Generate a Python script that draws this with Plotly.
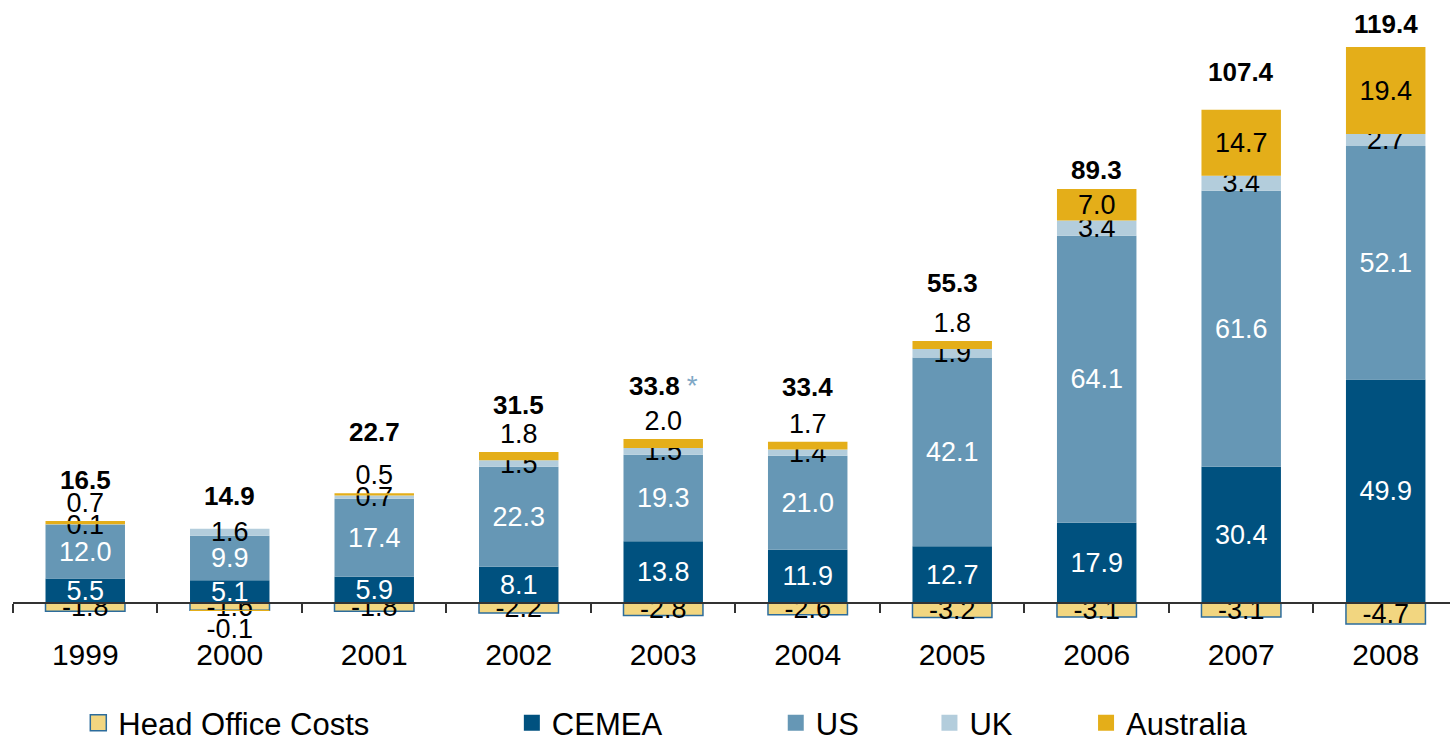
import plotly.graph_objects as go

# Operating profit by region, 1999-2008
years = ["1999", "2000", "2001", "2002", "2003", "2004", "2005", "2006", "2007", "2008"]
head_office = [-1.8, -1.6, -1.8, -2.2, -2.8, -2.6, -3.2, -3.1, -3.1, -4.7]
cemea = [5.5, 5.1, 5.9, 8.1, 13.8, 11.9, 12.7, 17.9, 30.4, 49.9]
us = [12.0, 9.9, 17.4, 22.3, 19.3, 21.0, 42.1, 64.1, 61.6, 52.1]
uk = [0.1, 1.6, 0.7, 1.5, 1.5, 1.4, 1.9, 3.4, 3.4, 2.7]
australia = [0.7, -0.1, 0.5, 1.8, 2.0, 1.7, 1.8, 7.0, 14.7, 19.4]
totals = [16.5, 14.9, 22.7, 31.5, 33.8, 33.4, 55.3, 89.3, 107.4, 119.4]
total_notes = ["", "", "", "", "*", "", "", "", "", ""]

# pixel lift of each total label above its value
total_lift = [49, 40, 69, 57, 66, 66, 72, 33, 50, 44]

FONT = "Liberation Sans, Arial, sans-serif"
LABEL_SIZE = 27

C_HEAD = "#F2D680"
C_HEAD_EDGE = "#2C6C9C"
C_CEMEA = "#00517F"
C_US = "#6697B5"
C_UK = "#B3CDDC"
C_AUS = "#E4AE19"

fig = go.Figure()


def add_segment(name, values, color, text_color, positions=None, line=None):
    fig.add_trace(go.Bar(
        name=name,
        x=years,
        y=values,
        width=0.55,
        marker=dict(color=color, line=line or dict(width=0)),
        text=[f"{v:.1f}" for v in values],
        textposition=positions if positions is not None else "inside",
        insidetextanchor="middle",
        textangle=0,
        constraintext="none",
        cliponaxis=False,
        textfont=dict(family=FONT, size=LABEL_SIZE, color=text_color),
        insidetextfont=dict(family=FONT, size=LABEL_SIZE, color=text_color),
        outsidetextfont=dict(family=FONT, size=LABEL_SIZE, color="#000000"),
        showlegend=False,
        hoverinfo="skip",
    ))


add_segment("Head Office Costs", head_office, C_HEAD, "#000000",
            line=dict(color=C_HEAD_EDGE, width=1.5))
add_segment("CEMEA", cemea, C_CEMEA, "#FFFFFF")
add_segment("US", us, C_US, "#FFFFFF")
add_segment("UK", uk, C_UK, "#000000")
add_segment("Australia", australia, C_AUS, "#000000",
            positions=["outside" if abs(v) < 3 else "inside" for v in australia])

# bold totals above each column (category axis -> position by index)
for i, (tot, note, lift) in enumerate(zip(totals, total_notes, total_lift)):
    label = f"<b>{tot:.1f}</b>"
    if note:
        label += f" <span style='color:#7FA8C6;font-size:28px'>{note}</span>"
    fig.add_annotation(
        x=i, y=tot, xref="x", yref="y", text=label, showarrow=False,
        yanchor="middle", yshift=lift,
        font=dict(family=FONT, size=26, color="#000000"),
    )

# legend keys: square swatches, one legend box per entry along the bottom
legend_keys = [
    ("Head Office Costs", C_HEAD, C_HEAD_EDGE, 1.5),
    ("CEMEA", C_CEMEA, C_CEMEA, 0),
    ("US", C_US, C_US, 0),
    ("UK", C_UK, C_UK, 0),
    ("Australia", C_AUS, C_AUS, 0),
]
legend_x = [0.054, 0.353, 0.535, 0.641, 0.749]
legend_names = ["legend", "legend2", "legend3", "legend4", "legend5"]
for (name, fill, edge, lw), lx, ln in zip(legend_keys, legend_x, legend_names):
    fig.add_trace(go.Scatter(
        x=[None], y=[None], mode="markers", name=name, legend=ln,
        marker=dict(symbol="square", size=16, color=fill,
                    line=dict(color=edge, width=lw)),
        hoverinfo="skip",
    ))
    fig.update_layout({ln: dict(
        x=lx, y=0.028, xref="container", yref="container",
        xanchor="left", yanchor="middle",
        bgcolor="rgba(0,0,0,0)",
        itemsizing="trace",
        font=dict(family=FONT, size=31, color="#000000"),
        itemclick=False, itemdoubleclick=False,
    )})

y_min, y_max = -13.6, 134.6
zero_pos = -y_min / (y_max - y_min)

fig.update_layout(
    width=1450,
    height=744,
    margin=dict(l=13, r=0, t=0, b=80, autoexpand=False),
    paper_bgcolor="#FFFFFF",
    plot_bgcolor="#FFFFFF",
    barmode="relative",
    bargap=0.45,
    font=dict(family=FONT, size=28, color="#000000"),
    showlegend=True,
    xaxis=dict(
        type="category",
        range=[-0.5, 9.445],
        anchor="free",
        position=zero_pos,
        showline=True,
        linecolor="#333333",
        linewidth=1.5,
        ticks="outside",
        tickson="boundaries",
        ticklen=9,
        tickwidth=1.5,
        tickcolor="#333333",
        ticklabelstandoff=25,
        tickfont=dict(family=FONT, size=30, color="#000000"),
        showgrid=False,
        zeroline=False,
        automargin=False,
        fixedrange=True,
    ),
    yaxis=dict(
        range=[y_min, y_max],
        visible=False,
        showgrid=False,
        zeroline=False,
        automargin=False,
        fixedrange=True,
    ),
)

fig.write_html("out.html")
